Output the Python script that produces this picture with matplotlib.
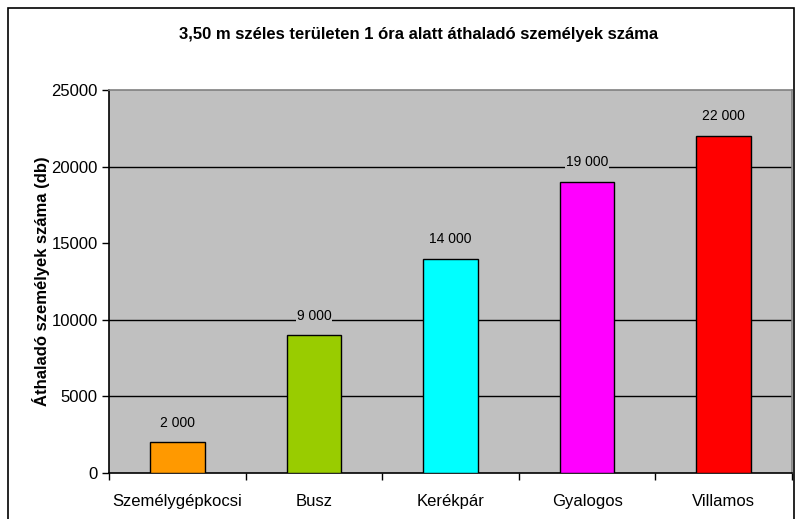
import numpy as np
import matplotlib.pyplot as plt
from matplotlib.patches import Rectangle

plt.rcParams['font.family'] = ['Liberation Sans', 'DejaVu Sans']

categories = ["Személygépkocsi", "Busz", "Kerékpár", "Gyalogos", "Villamos"]
values = [2000, 9000, 14000, 19000, 22000]
value_labels = ["2 000", "9 000", "14 000", "19 000", "22 000"]
bar_colors = ["#FF9900", "#99CC00", "#00FFFF", "#FF00FF", "#FF0000"]
y_ticks = [0, 5000, 10000, 15000, 20000, 25000]
grid_values = [5000, 10000, 20000]  # the 15000 line is not drawn in the original

fig = plt.figure(figsize=(7.95, 5.19), dpi=100)
W, H = 795, 519

# outer chart frame
fig.patches.append(Rectangle((8 / W, -0.01), (794 - 8) / W, 1 - 8 / H + 0.01,
                             transform=fig.transFigure, fill=False,
                             edgecolor="black", linewidth=1.2))

# plot area ------------------------------------------------------------
left, right, top, bottom = 109, 792, 90, 473
ax = fig.add_axes([left / W, 1 - bottom / H, (right - left) / W, (bottom - top) / H])
ax.set_facecolor("#C0C0C0")
for s in ax.spines.values():
    s.set_color("#808080")
    s.set_linewidth(1.2)
ax.spines["bottom"].set_color("black")
ax.spines["left"].set_color("black")

for g in grid_values:
    ax.axhline(g, color="black", linewidth=1, zorder=1)

x = np.arange(len(categories))
ax.bar(x, values, width=0.4, color=bar_colors, edgecolor="black", linewidth=1, zorder=3)
for xi, v, lab in zip(x, values, value_labels):
    ax.annotate(lab, (xi, v), xytext=(0, 9), textcoords="offset points",
                ha="center", va="bottom", fontsize=10, zorder=4,
                bbox=dict(boxstyle="square,pad=0.05", facecolor="#C0C0C0",
                          edgecolor="none"))

ax.set_xlim(-0.5, len(categories) - 0.5)
ax.set_ylim(0, 25000)
ax.set_yticks(y_ticks)
ax.set_yticklabels([str(t) for t in y_ticks], fontsize=12)

# category labels centered, ticks at the boundaries
ax.set_xticks(np.arange(-0.5, len(categories) + 0.5, 1))
ax.set_xticklabels([])
ax.set_xticks(x, minor=True)
ax.set_xticklabels(categories, minor=True, fontsize=12)
ax.tick_params(axis="x", which="minor", length=0, pad=15)
ax.tick_params(axis="x", which="major", length=5, width=1, direction="out")
ax.tick_params(axis="y", length=5, width=1, direction="out", pad=3)

ax.set_ylabel("Áthaladó személyek száma (db)", fontsize=12, fontweight="bold", labelpad=1)

fig.text(0.5 * (175 + 662) / W, 1 - 35 / H,
         "3,50 m széles területen 1 óra alatt áthaladó személyek száma",
         ha="center", va="center", fontsize=12, fontweight="bold")

fig.savefig("out.png", dpi=100, facecolor="white")
